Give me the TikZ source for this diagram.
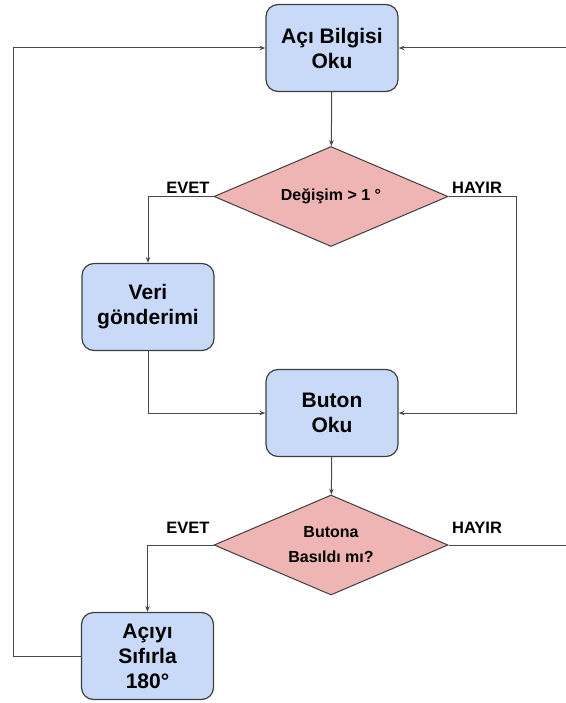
\documentclass[tikz,border=0pt]{standalone}
\usepackage{fontspec}
\setmainfont{Liberation Sans}
\usepackage{xcolor}
\usetikzlibrary{shapes.geometric, arrows.meta}

\definecolor{kutumavi}{HTML}{C9DAF8}
\definecolor{karopembe}{HTML}{EFB4B4}
\definecolor{kenar}{HTML}{3F3F3F}
\definecolor{cizgi}{HTML}{4A4A4A}

\tikzset{
    stepbox/.style={draw=kenar, line width=1.2pt, fill=kutumavi, rounded corners=12pt,
        minimum width=132pt, minimum height=87pt, align=center,
        font=\bfseries\fontsize{21}{25}\selectfont},
    karar/.style={diamond, aspect=2.34, draw=kenar, line width=1pt, fill=karopembe,
        minimum width=234pt, minimum height=100pt, inner sep=0pt, align=center,
        font=\bfseries\fontsize{16}{25}\selectfont},
    etiket/.style={font=\bfseries\fontsize{16.5}{20}\selectfont},
    ok/.style={draw=cizgi, line width=1pt, -{Stealth[length=6pt,width=4.5pt]}},
    hat/.style={draw=cizgi, line width=1pt}
}

\begin{document}
\begin{tikzpicture}[x=1pt, y=-1pt]
            \useasboundingbox (0,0) rectangle (565,703);

            \node[stepbox] (aci) at (332,48) {Açı Bilgisi\\Oku};
            \node[karar] (degisim) at (331,196.5) {Değişim > 1 °};
            \node[stepbox] (veri) at (148,307) {Veri\\gönderimi};
            \node[stepbox] (buton) at (332,413) {Buton\\Oku};
            \node[karar] (basildi) at (331,545) {Butona\\Basıldı mı?};
            \node[stepbox] (sifirla) at (147.5,656) {Açıyı\\Sıfırla\\180°};

            \node[etiket] (evet1) at (188,188) {EVET};
            \node[etiket] (hayir1) at (477,188) {HAYIR};
            \node[etiket] (evet2) at (188,528) {EVET};
            \node[etiket] (hayir2) at (477,528) {HAYIR};

            \coordinate (hayirdon) at (516,196.5);
            \coordinate (solkose) at (13,656);
            \coordinate (sagalt) at (566,545);
            \coordinate (sagust) at (566,48);

            \draw[ok] (aci) -- (degisim); % aci-degisim
            \draw[ok] (degisim.west) -| (veri.north); % evet
            \draw[ok] (degisim.east) -- (hayirdon) |- (buton.east); % hayir
            \draw[ok] (veri.south) |- (buton.west); % veri-buton
            \draw[ok] (buton) -- (basildi); % buton-basildi
            \draw[ok] (basildi.west) -| (sifirla.north); % evet
            \draw[hat] (basildi.east) -- (sagalt); % hayir
            \draw[ok] (sagust) -- (aci.east);
            \draw[ok] (sifirla.west) -- (solkose) |- (aci.west); % geri don
        \end{tikzpicture}
\end{document}
